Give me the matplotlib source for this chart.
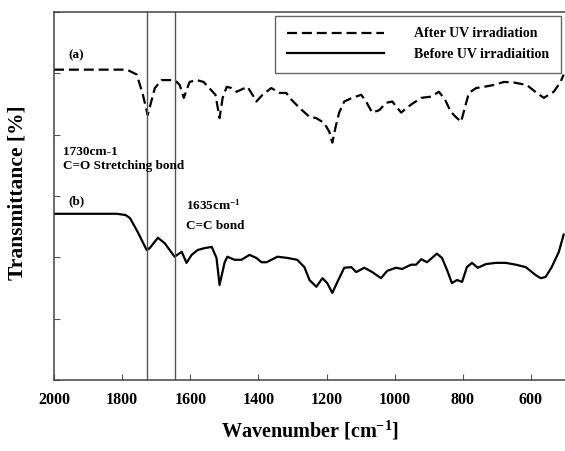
import numpy as np
import matplotlib.pyplot as plt

plt.rcParams['font.family'] = 'Liberation Serif'
plt.rcParams['font.weight'] = 'bold'
plt.rcParams['mathtext.fontset'] = 'custom'
plt.rcParams['mathtext.rm'] = 'Liberation Serif:bold'
plt.rcParams['mathtext.bf'] = 'Liberation Serif:bold'
plt.rcParams['mathtext.default'] = 'bf'

# (a) after UV irradiation, dashed
wn_after = [2000, 1786, 1757, 1739, 1725, 1704, 1684, 1646, 1631, 1619, 1602,
            1581, 1561, 1526, 1514, 1505, 1493, 1479, 1464, 1432, 1414, 1406,
            1388, 1362, 1338, 1318, 1303, 1280, 1250, 1230, 1207, 1192, 1183,
            1174, 1163, 1148, 1125, 1098, 1084, 1066, 1045, 1025, 1007, 981,
            952, 922, 893, 870, 852, 835, 817, 805, 794, 782, 761, 738, 709,
            679, 650, 612, 583, 562, 533, 513, 504]
tr_after = [5.06, 5.06, 4.98, 4.65, 4.32, 4.76, 4.89, 4.89, 4.81, 4.60, 4.86,
            4.89, 4.86, 4.65, 4.27, 4.60, 4.78, 4.76, 4.70, 4.78, 4.62, 4.54,
            4.65, 4.76, 4.68, 4.68, 4.57, 4.44, 4.29, 4.27, 4.19, 4.05, 3.87,
            4.11, 4.36, 4.54, 4.60, 4.65, 4.54, 4.36, 4.40, 4.52, 4.54, 4.36,
            4.49, 4.60, 4.62, 4.70, 4.57, 4.37, 4.27, 4.21, 4.44, 4.68, 4.76,
            4.78, 4.81, 4.86, 4.85, 4.81, 4.68, 4.60, 4.70, 4.86, 4.98]

# (b) before UV irradiation, solid
wn_before = [2000, 1816, 1790, 1777, 1754, 1728, 1719, 1695, 1675, 1646, 1625,
             1611, 1596, 1578, 1558, 1537, 1523, 1514, 1499, 1491, 1470, 1450,
             1426, 1406, 1391, 1376, 1344, 1315, 1286, 1265, 1250, 1230, 1212,
             1198, 1183, 1168, 1148, 1127, 1113, 1089, 1066, 1040, 1022, 996,
             978, 952, 937, 922, 905, 876, 861, 846, 832, 817, 802, 788, 773,
             756, 732, 703, 674, 644, 615, 586, 571, 557, 539, 518, 504]
tr_before = [2.71, 2.71, 2.69, 2.64, 2.41, 2.12, 2.15, 2.32, 2.23, 2.01, 2.09,
             1.91, 2.04, 2.12, 2.15, 2.17, 1.99, 1.55, 1.92, 2.01, 1.96, 1.96,
             2.04, 1.99, 1.92, 1.92, 2.01, 1.99, 1.96, 1.84, 1.63, 1.52, 1.66,
             1.58, 1.42, 1.60, 1.83, 1.84, 1.76, 1.83, 1.76, 1.66, 1.78, 1.83,
             1.81, 1.88, 1.88, 1.97, 1.92, 2.06, 1.99, 1.79, 1.58, 1.63, 1.60,
             1.84, 1.91, 1.83, 1.89, 1.91, 1.91, 1.88, 1.84, 1.71, 1.66, 1.68,
             1.84, 2.09, 2.37]

marker_lines = [1728, 1645]
xticks = [2000, 1800, 1600, 1400, 1200, 1000, 800, 600]

fig = plt.figure(figsize=(5.65, 4.51), dpi=100)
ax = fig.add_axes([54 / 565, 1 - 380 / 451, 1 - 54 / 565, 368 / 451])

ax.plot(wn_after, tr_after, color='black', lw=1.6, linestyle=(0, (4.5, 2.2)),
        label='After UV irradiation')
ax.plot(wn_before, tr_before, color='black', lw=1.6,
        label='Before UV irradiaition')

for x in marker_lines:
    ax.axvline(x, color='#555555', lw=1.0)

ax.set_xlim(2000, 500)
ax.set_ylim(0, 6)
ax.set_xticks(xticks)
ax.set_yticks(np.arange(0, 7, 1))
ax.set_yticklabels([])
ax.tick_params(direction='in', length=4, color='#555555', labelsize=11.5)
ax.tick_params(axis='x', pad=9)
for s in ['left', 'bottom', 'top']:
    ax.spines[s].set_color('#444444')
    ax.spines[s].set_linewidth(1.1)
ax.spines['right'].set_visible(False)

ax.set_xlabel('Wavenumber [cm$^{-1}$]', fontsize=14.5, fontweight='bold')
ax.xaxis.set_label_coords(0.5, -0.105)
ax.set_ylabel('Transmittance [%]', fontsize=15.5, fontweight='bold')
ax.yaxis.set_label_coords(-0.052, 0.51)

fs = 9.5
ax.text(1959, 5.29, '(a)', fontsize=fs, fontweight='bold', va='center')
ax.text(1974, 3.72, '1730cm-1', fontsize=fs, fontweight='bold', va='center')
ax.text(1974, 3.49, 'C=O Stretching bond', fontsize=fs, fontweight='bold',
        va='center')
ax.text(1959, 2.92, '(b)', fontsize=fs, fontweight='bold', va='center')
ax.text(1613, 2.85, '1635cm$^{-1}$', fontsize=fs, fontweight='bold',
        va='center')
ax.text(1613, 2.51, 'C=C bond', fontsize=fs, fontweight='bold', va='center')

leg = ax.legend(loc='upper right', bbox_to_anchor=(0.993, 0.99),
                borderaxespad=0, handlelength=7.0, handletextpad=2.2,
                fancybox=False, edgecolor='#666666', framealpha=1,
                prop={'size': 10, 'weight': 'bold'}, labelspacing=0.55,
                borderpad=0.85)
leg.get_frame().set_linewidth(1.0)

fig.savefig('out.png', dpi=100)
